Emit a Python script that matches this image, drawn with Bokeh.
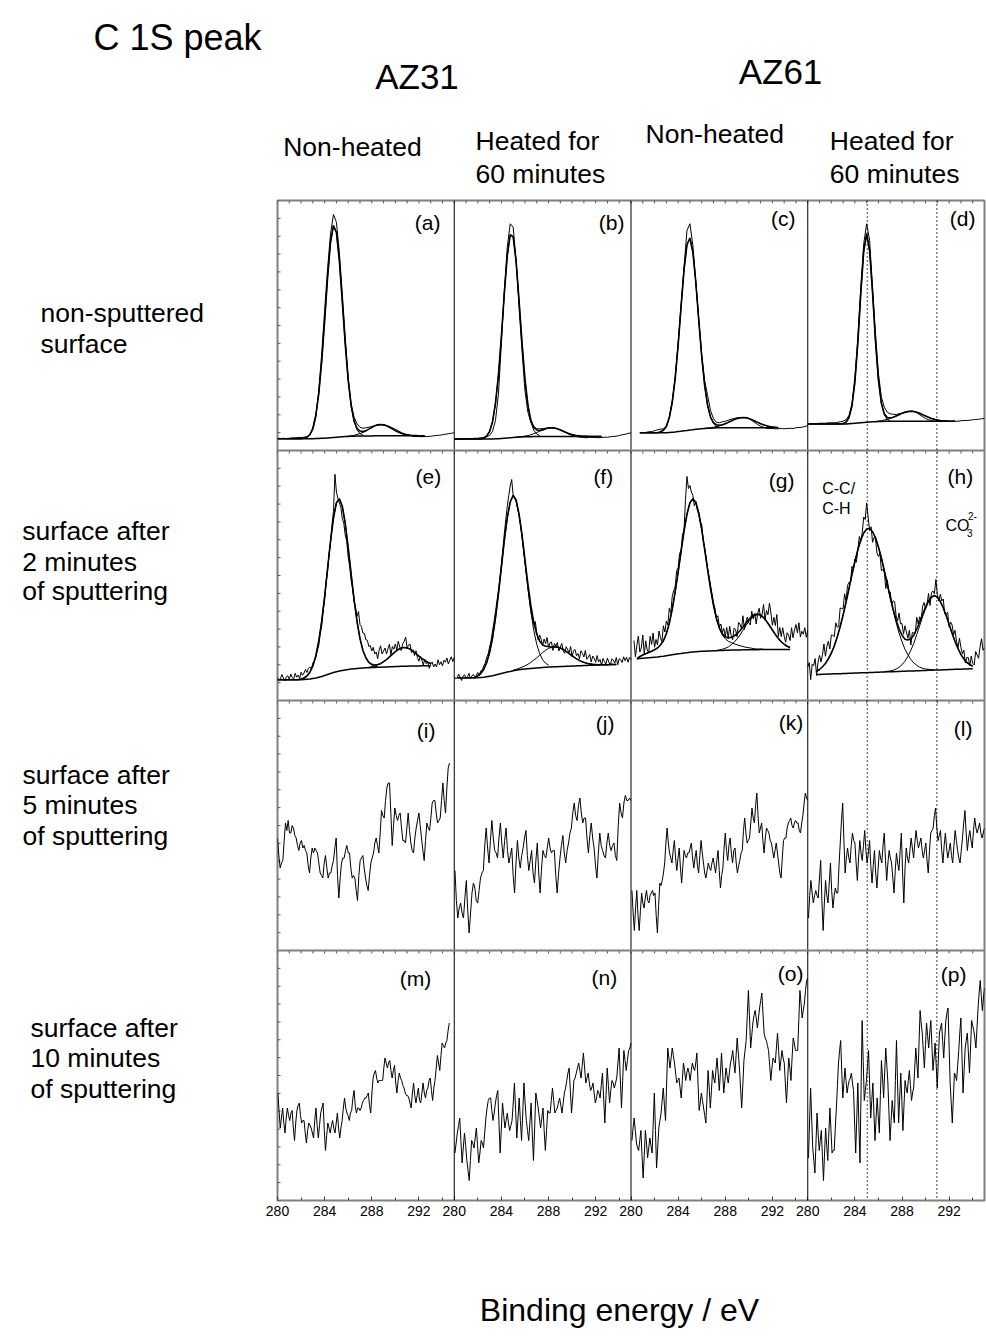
import numpy as np
from bokeh.plotting import figure
from bokeh.layouts import column, row
from bokeh.models import Range1d, LinearAxis, FixedTicker, Span, Label
from bokeh.embed import file_html
from bokeh.resources import INLINE

# ---------------------------------------------------------------
# DATA  (intensity given in % of the panel height, energies in eV)
# ---------------------------------------------------------------
panel_names = ["a", "b", "c", "d", "e", "f", "g", "h",
               "i", "j", "k", "l", "m", "n", "o", "p"]
tick_energies = [280, 284, 288, 292]
minor_tick_energies = [282, 286, 290, 294]
marker_energies = [285.06, 290.95]          # C-C/C-H and CO3(2-) lines

# raw spectra: (first energy, last energy)
raw_span = {
    "a": (280.0, 295.0), "b": (280.0, 295.0), "c": (280.75, 295.0), "d": (280.0, 295.0),
    "e": (280.0, 295.0), "f": (280.0, 295.0), "g": (280.25, 295.0), "h": (280.0, 295.0),
    "i": (280.0, 294.6), "j": (280.06, 295.0), "k": (280.08, 295.0), "l": (280.06, 295.0),
    "m": (280.03, 294.58), "n": (280.06, 295.0), "o": (280.08, 295.0), "p": (280.06, 295.0),
}

raw_a = [4.9, 4.8, 4.9, 4.8, 4.9, 5.1, 5.1, 5.2, 5.2, 5.3, 5.6, 6.3, 8.3,
         13.3, 24.0, 38.7, 56.0, 72.7, 86.7, 94.4, 91.3, 79.3, 62.7, 45.3, 29.3,
         18.7, 13.3, 10.7, 9.3,
         8.9, 9.1, 9.3, 9.6, 9.9, 10.1, 10.3, 10.3,
         10.0, 9.6, 9.1, 8.5, 7.9, 7.2, 6.7, 6.3,
         6.0, 5.7, 5.6, 5.6, 5.5, 5.6, 5.6, 5.7,
         5.9, 6.0, 6.1, 6.3, 6.5, 6.7, 6.9, 7.1]
raw_b = [4.5, 4.5, 4.7, 4.7, 4.7, 4.8, 4.8, 4.9, 4.9, 5.1, 5.2, 5.5, 6.0,
         7.7, 12.0, 22.7, 42.7, 64.0, 81.3, 90.7, 89.3, 76.0, 57.3, 40.0, 24.0,
         15.3, 11.3, 9.6, 8.7,
         8.7, 8.8, 8.9, 9.1, 9.1, 8.9, 8.7, 8.3,
         7.7, 7.1, 6.5, 6.0, 5.7, 5.5, 5.3, 5.2,
         5.1, 5.3, 5.2, 5.2, 5.1, 5.2, 5.3, 5.3,
         5.5, 5.6, 5.7, 6.0, 6.3, 6.5, 6.8, 7.1]
raw_c = [7.1, 7.2, 7.2, 7.5, 7.6, 7.9, 8.3, 8.5, 8.7, 9.3,
         13.3, 20.0, 29.5, 43.0, 58.5, 73.5, 88.0, 90.7, 82.0, 67.5, 52.5, 38.7,
         28.0, 22.0, 16.0, 12.7,
         11.3, 11.1, 11.5, 11.7, 12.1, 12.5, 12.8, 13.1,
         13.1, 13.1, 13.3, 12.8, 12.0, 11.2, 10.4, 9.7,
         9.3, 8.9, 8.8, 8.8, 8.7, 8.7, 8.8, 8.7,
         8.8, 8.9, 8.8, 9.1, 9.2, 9.3, 9.6, 10.0]
raw_d = [10.7, 10.7, 10.8, 10.8, 10.9, 10.9, 10.9, 11.1, 11.1, 11.1, 11.2, 11.5, 11.7,
         12.3, 14.0, 18.7, 29.3, 45.3, 65.3, 82.7, 90.7, 84.0, 65.3, 46.7, 30.7,
         21.3, 17.3, 15.3, 14.7,
         14.5, 14.4, 14.7, 14.9, 15.2, 15.5, 15.7, 15.7,
         15.1, 14.3, 13.5, 12.8, 12.3, 12.0, 11.7, 11.7,
         11.6, 11.6, 11.6, 11.6, 11.6, 11.7, 11.7, 11.9,
         12.0, 12.0, 12.1, 12.3, 12.4, 12.5, 12.7, 12.8]
raw_e = [9.2, 8.1, 8.7, 10.4, 9.0, 7.8, 9.5, 9.9, 8.4, 10.6, 9.1, 8.6, 10.9, 9.3, 10.2, 8.8,
         11.3, 10.1, 11.0, 12.4, 11.2, 12.9, 13.4, 12.6,
         15.0, 15.8, 17.2, 19.9, 22.1, 26.6, 29.8, 35.7,
         40.2, 47.1, 51.8, 58.9, 63.0, 70.4, 75.6, 90.5,
         83.4, 80.9, 79.0, 77.4, 72.8, 70.9, 66.2, 63.6,
         57.4, 53.6, 48.0, 44.6, 39.5, 37.1, 33.6, 35.6,
         30.4, 29.6, 27.0, 26.8, 24.3, 24.1, 21.6, 22.0,
         19.8, 21.3, 18.6, 19.4, 16.7, 20.2, 21.9, 18.6, 19.8, 21.0, 18.6, 20.7, 22.5, 18.3,
         21.6, 20.5, 22.6, 20.2, 23.7, 21.3, 20.0, 22.7, 23.6, 25.4, 21.0, 22.2, 22.5, 19.1,
         20.3, 18.0, 19.9, 17.2, 15.7, 17.6, 16.2, 14.2, 16.5, 14.7, 15.5, 12.9, 14.5, 15.4,
         13.4, 14.6, 13.4, 16.3, 14.3, 15.5, 13.8, 16.1, 15.3, 17.0, 14.6, 16.1, 17.5, 15.6,
         17.2]
raw_f = [9.6, 8.7, 9.1, 10.6, 9.3, 8.0, 9.8, 10.3, 8.9, 9.5, 10.9, 8.6, 9.9, 10.4, 9.2, 10.1,
         11.2, 10.0, 11.8,
         12.2, 13.8, 14.9, 17.2, 18.6, 21.4, 24.0, 27.8, 31.5, 35.6, 39.8, 44.2, 49.0,
         54.6, 60.5, 66.8, 72.4, 77.6, 82.0, 85.8, 88.4, 82.0, 81.0, 79.6, 77.0, 74.2, 70.6,
         66.0, 60.8, 55.6, 50.2, 45.2, 40.4, 36.0, 33.0, 30.4, 31.6, 27.2,
         24.2, 26.2, 24.5, 21.9, 24.6, 22.8, 25.2, 21.3, 23.0, 23.4, 20.0, 22.8, 21.7, 23.2,
         19.8, 21.4, 22.8, 19.8, 18.9, 21.5, 20.3, 19.2, 21.6, 17.5, 19.9, 20.4, 17.9, 18.8,
         16.7, 19.9, 18.9, 17.4, 20.0, 16.5, 17.3, 18.4, 15.4, 17.8, 16.9, 15.3, 18.0, 15.5,
         16.4, 14.2, 16.8, 15.5, 14.6, 17.0, 15.3, 14.2, 16.7, 16.2, 15.0, 17.2, 14.3, 16.7,
         16.3, 15.2, 17.5, 15.9, 17.3, 15.3, 17.2, 16.4]
raw_g = [24.0, 17.5, 22.1, 25.8, 19.4, 21.0, 26.2, 18.6, 23.9, 20.2, 19.1, 25.7, 22.4, 27.0,
         21.3, 24.4, 22.2, 27.8, 25.1, 23.6, 29.9, 27.4,
         31.8, 30.2, 36.9, 35.0, 41.7, 43.9, 45.6, 51.8, 53.1, 58.8, 60.2, 66.5, 68.1, 80.4,
         89.6, 84.8, 86.0,
         83.4, 82.1, 77.9, 79.6, 76.2, 74.5, 71.3, 70.6, 64.0, 61.2, 57.5, 53.0, 49.6, 46.1,
         42.7, 39.0, 36.8, 33.1, 33.9, 29.4, 30.6, 27.2, 28.8, 25.7,
         29.2, 24.9, 29.7, 25.9, 24.3, 29.0, 28.4, 25.5, 31.2, 30.6, 28.6, 33.9, 28.4, 31.4,
         33.4, 31.1, 30.2, 35.7, 32.7, 34.8, 30.6, 34.8, 36.9, 32.9, 34.5, 38.4, 32.1, 36.0,
         34.3, 39.0, 35.0, 30.1, 33.3, 30.0, 34.4, 25.6, 29.2, 25.6, 29.1, 25.7, 23.3, 27.1,
         26.2, 24.0, 29.1, 25.1, 28.2, 30.4, 27.0, 31.1, 25.4, 27.7, 26.5, 29.1, 25.3, 28.2]
raw_h = [13.4, 15.2, 8.4, 14.5, 13.9, 16.8, 10.0, 15.4, 18.1, 15.4, 18.3, 22.6, 17.7, 21.6,
         23.7, 20.6, 26.2, 26.1, 25.5, 31.1, 29.3, 29.6, 37.0, 36.8, 36.7, 42.7, 39.9, 46.0,
         47.3, 47.1, 53.7, 52.5, 56.6, 55.3, 60.2, 65.6, 63.6, 67.2, 73.4, 72.4, 79.0, 73.3,
         68.0, 69.5, 63.3, 65.2, 64.8, 58.9, 57.6, 58.9, 51.9, 52.5, 51.1, 44.8, 48.3, 43.4,
         43.4, 38.5, 39.9, 39.5, 33.8, 31.8, 35.0, 30.7, 30.8, 26.5, 29.9, 27.4, 24.9, 28.1,
         22.2, 27.2, 27.0, 26.9, 33.3, 30.6, 33.5, 32.2, 37.7, 39.2, 36.6, 38.5, 42.8, 38.0,
         43.1, 43.8, 42.7, 48.4, 42.3, 39.8, 42.5, 39.8, 40.6, 34.6, 34.6, 35.3, 29.4, 31.4,
         30.2, 26.2, 28.1, 23.7, 21.1, 24.9, 21.2, 18.7, 20.1, 15.1, 17.2, 17.2, 13.8, 17.8,
         14.9, 14.2, 19.6, 18.2, 16.9, 21.5, 24.7, 20.1, 21.1]
raw_i = [45, 38, 33, 35, 36, 44, 51, 48, 52, 47, 47, 50, 49, 46, 45, 42, 40, 43, 44, 41, 42, 40,
         39, 34, 31, 37, 41, 39, 41, 40, 39, 35, 31, 30, 29, 35, 38, 33, 29, 31, 31, 34, 36, 41,
         45, 30, 21, 29, 35, 37, 37, 40, 42, 39, 39, 33, 29, 30, 29, 24, 20, 30, 36, 37, 38, 33,
         29, 26, 24, 30, 35, 37, 39, 43, 45, 42, 39, 47, 56, 54, 53, 60, 65, 67, 67, 55, 42, 50,
         57, 54, 52, 54, 55, 49, 44, 44, 43, 49, 55, 48, 43, 40, 39, 45, 49, 52, 55, 50, 45, 40,
         36, 44, 51, 49, 48, 53, 59, 60, 60, 55, 51, 52, 53, 60, 67, 60, 55, 65, 73, 75]
raw_j = [32, 20, 13, 17, 19, 15, 13, 21, 28, 16, 7, 15, 23, 27, 25, 20, 19, 24, 29, 31, 32, 42,
         49, 41, 35, 44, 52, 45, 40, 39, 37, 45, 51, 43, 37, 44, 49, 40, 35, 38, 41, 30, 23, 35,
         44, 37, 33, 38, 41, 45, 48, 38, 32, 36, 40, 31, 27, 36, 43, 31, 23, 33, 40, 38, 37, 41,
         45, 41, 39, 40, 40, 30, 23, 31, 37, 42, 46, 39, 35, 40, 43, 47, 49, 55, 59, 54, 52, 58,
         61, 55, 51, 53, 53, 45, 39, 46, 51, 45, 41, 34, 29, 39, 47, 42, 40, 38, 37, 43, 47, 42,
         40, 42, 43, 38, 36, 50, 59, 55, 53, 59, 62, 60, 60, 61, 60]
raw_k = [24, 15, 8, 17, 24, 14, 8, 16, 23, 19, 17, 21, 24, 20, 19, 22, 23, 24, 22, 23, 14, 7,
         18, 27, 26, 28, 31, 35, 43, 49, 43, 39, 37, 35, 40, 44, 37, 32, 37, 41, 33, 27, 34, 40,
         38, 37, 39, 39, 41, 43, 37, 33, 37, 40, 34, 31, 38, 44, 39, 35, 31, 29, 32, 35, 33, 32,
         35, 37, 34, 31, 36, 40, 32, 25, 30, 33, 41, 47, 40, 36, 42, 45, 39, 35, 40, 41, 35, 31,
         34, 36, 39, 40, 48, 53, 47, 43, 44, 45, 51, 57, 53, 51, 58, 63, 54, 47, 49, 51, 44, 39,
         45, 49, 48, 47, 44, 43, 40, 37, 40, 43, 39, 35, 31, 29, 37, 44, 45, 45, 49, 51, 52, 53,
         50, 49, 51, 52, 51, 51, 48, 47, 51, 54, 59, 63, 61, 60]
raw_l = [13, 22, 28, 23, 19, 22, 24, 22, 21, 29, 36, 20, 8, 19, 28, 22, 19, 27, 35, 24, 17, 22,
         25, 23, 23, 34, 43, 52, 59, 44, 31, 37, 41, 37, 35, 42, 47, 44, 43, 35, 28, 37, 44, 39,
         36, 42, 48, 40, 35, 39, 44, 34, 27, 34, 40, 31, 25, 33, 40, 37, 35, 42, 47, 36, 28, 35,
         40, 37, 35, 29, 23, 32, 39, 35, 32, 40, 47, 31, 19, 33, 41, 37, 35, 40, 45, 41, 37, 43,
         48, 44, 41, 43, 45, 40, 37, 40, 43, 36, 31, 40, 47, 48, 49, 54, 57, 49, 44, 46, 48, 40,
         35, 42, 47, 41, 37, 40, 43, 38, 35, 42, 48, 44, 40, 37, 35, 40, 45, 51, 56, 47, 40, 45,
         48, 44, 41, 48, 53, 49, 47, 49, 51, 47, 45, 47, 49]
raw_m = [43, 36, 29, 33, 37, 31, 27, 33, 37, 34, 32, 35, 36, 29, 24, 31, 36, 38, 39, 34, 31, 32,
         32, 27, 23, 28, 31, 30, 29, 27, 25, 32, 37, 30, 25, 30, 35, 37, 39, 28, 20, 26, 31, 29,
         27, 30, 32, 29, 27, 31, 35, 29, 25, 29, 32, 37, 41, 37, 35, 34, 32, 35, 36, 41, 44, 38,
         35, 37, 37, 36, 37, 39, 40, 41, 41, 42, 43, 38, 35, 43, 49, 51, 52, 49, 47, 48, 48, 48,
         48, 53, 57, 55, 53, 55, 56, 52, 49, 52, 54, 47, 43, 48, 51, 49, 48, 46, 45, 43, 42, 42,
         41, 39, 37, 43, 47, 42, 39, 42, 45, 40, 39, 43, 47, 43, 41, 44, 45, 48, 49, 44, 40, 45,
         48, 53, 58, 55, 52, 58, 63, 62, 61, 63, 64, 68, 71]
raw_n = [19, 23, 27, 30, 33, 24, 15, 21, 27, 22, 16, 12, 8, 16, 24, 23, 21, 25, 29, 22, 15, 19,
         24, 23, 21, 27, 33, 37, 40, 41, 41, 36, 32, 35, 39, 42, 44, 31, 19, 29, 39, 34, 29, 32,
         35, 31, 28, 30, 32, 39, 47, 36, 25, 33, 41, 32, 24, 35, 47, 39, 32, 28, 24, 31, 39, 27,
         16, 29, 43, 40, 37, 33, 29, 33, 37, 28, 20, 28, 36, 35, 35, 40, 45, 40, 35, 36, 37, 39,
         41, 38, 35, 39, 43, 45, 48, 51, 53, 44, 35, 41, 48, 49, 51, 53, 55, 52, 49, 54, 59, 53,
         47, 49, 51, 47, 44, 45, 47, 43, 39, 41, 44, 43, 41, 46, 51, 41, 31, 42, 53, 46, 39, 44,
         48, 47, 45, 47, 49, 55, 61, 49, 37, 48, 60, 56, 52, 56, 60, 61, 63]
raw_o = [24, 29, 33, 28, 23, 21, 20, 24, 28, 18, 9, 18, 28, 23, 17, 21, 25, 22, 19, 31, 43, 28,
         13, 21, 29, 32, 35, 40, 45, 38, 32, 47, 61, 57, 53, 57, 61, 58, 55, 51, 47, 48, 49, 45,
         41, 48, 55, 52, 48, 51, 53, 51, 48, 52, 55, 53, 52, 55, 59, 47, 36, 39, 43, 40, 37, 34,
         31, 41, 52, 45, 37, 44, 52, 49, 47, 52, 57, 51, 44, 51, 59, 51, 43, 48, 53, 50, 47, 51,
         55, 57, 60, 55, 51, 58, 65, 59, 53, 45, 37, 46, 56, 60, 64, 74, 84, 73, 61, 66, 71, 74,
         76, 73, 69, 73, 77, 80, 83, 75, 67, 65, 64, 62, 60, 54, 48, 53, 57, 56, 55, 61, 67, 60,
         52, 56, 60, 57, 55, 47, 39, 48, 57, 53, 48, 57, 65, 63, 60, 60, 60, 72, 84, 79, 73, 76,
         79, 84, 88, 89]
raw_p = [17, 31, 45, 33, 21, 16, 11, 23, 35, 27, 20, 24, 28, 18, 8, 19, 29, 22, 16, 27, 37, 28,
         19, 20, 20, 29, 37, 46, 55, 60, 64, 52, 41, 47, 53, 48, 43, 46, 48, 49, 51, 47, 44, 31,
         19, 33, 47, 30, 15, 44, 72, 56, 40, 44, 48, 54, 60, 46, 33, 40, 47, 35, 24, 33, 41, 34,
         27, 42, 56, 49, 41, 51, 61, 54, 47, 35, 24, 32, 40, 35, 31, 48, 64, 47, 31, 41, 51, 40,
         28, 38, 48, 45, 43, 48, 52, 46, 40, 43, 45, 53, 61, 55, 49, 63, 76, 71, 67, 60, 53, 62,
         71, 66, 61, 67, 72, 62, 52, 57, 63, 54, 45, 56, 67, 69, 71, 64, 57, 65, 72, 75, 77, 62,
         47, 39, 31, 41, 51, 50, 48, 54, 60, 67, 73, 58, 43, 52, 61, 64, 67, 59, 51, 61, 72, 70,
         68, 65, 61, 69, 77, 83, 88, 82, 76, 81, 85]

# peak fits (0.25 eV grid): background, C-C/C-H component, CO3 component
fit_step = 0.25
bg_a = [4.7, 4.7, 4.7, 4.7, 4.7, 4.7, 4.7, 4.7, 4.7, 4.7, 4.7, 4.7, 4.7,
        4.8, 4.8, 4.9, 4.9, 5.0, 5.1, 5.2, 5.3, 5.4, 5.5, 5.6, 5.6, 5.7, 5.7, 5.8, 5.8,
        5.8, 5.8, 5.8, 5.8, 5.9, 5.9, 5.9, 5.9, 5.9, 5.9, 5.9, 5.9, 5.9, 5.9, 5.9, 5.9,
        5.9, 5.9, 5.9, 5.9, 5.9, 5.9]
cc_a = [0.2, 0.6, 1.7, 4.2, 9.2, 17.8, 30.6, 46.9, 64.2, 78.2, 84.8, 81.9, 70.5, 54.0,
        36.8, 22.4, 12.1, 5.8, 2.5, 1.0, 0.3]
co3_a = [0.05, 0.1, 0.2, 0.36, 0.61, 0.97, 1.46, 2.06, 2.73, 3.4, 3.97, 4.36, 4.5, 4.36,
         3.97, 3.4, 2.73, 2.06, 1.46, 0.97, 0.61, 0.36, 0.2, 0.1, 0.05]
bg_b = [4.6, 4.6, 4.6, 4.6, 4.6, 4.6, 4.6, 4.6, 4.6, 4.6, 4.6, 4.6, 4.6,
        4.6, 4.7, 4.7, 4.8, 4.9, 5.0, 5.1, 5.2, 5.3, 5.4, 5.4, 5.5, 5.5, 5.5,
        5.6, 5.6, 5.6, 5.6, 5.6, 5.6, 5.6, 5.6, 5.6, 5.6, 5.6, 5.6, 5.6, 5.6, 5.6, 5.6,
        5.6, 5.6, 5.6, 5.6, 5.6, 5.6, 5.6, 5.6]
cc_b = [0.4, 1.2, 3.0, 6.9, 14.2, 25.5, 40.8, 58.0, 72.9, 81.2, 80.3, 70.3, 54.5, 37.6,
        22.9, 12.4, 5.9, 2.5, 1.0, 0.3]
co3_b = [0.04, 0.08, 0.15, 0.28, 0.47, 0.76, 1.14, 1.6, 2.12, 2.64, 3.09, 3.39, 3.5, 3.39,
         3.09, 2.64, 2.12, 1.6, 1.14, 0.76, 0.47, 0.28, 0.15, 0.08, 0.04]
bg_c = [7.1, 7.1, 7.1, 7.1, 7.1, 7.1, 7.1, 7.1, 7.1, 7.1,
        7.2, 7.3, 7.4, 7.6, 7.7, 7.9, 8.0, 8.2, 8.3, 8.5, 8.6, 8.7, 8.8, 8.9, 8.9, 9.0,
        9.1, 9.1, 9.1, 9.1, 9.1, 9.1, 9.1, 9.1, 9.1, 9.1, 9.1, 9.1, 9.1, 9.1, 9.1, 9.1,
        9.1, 9.1, 9.1, 9.1, 9.1, 9.1]
cc_c = [0.4, 1.0, 2.6, 5.9, 11.9, 21.4, 34.5, 49.8, 64.3, 74.3, 76.8, 71.1, 58.8, 43.6,
        28.9, 17.2, 9.1, 4.3, 1.8, 0.7, 0.2]
co3_c = [0.05, 0.1, 0.18, 0.31, 0.5, 0.78, 1.16, 1.62, 2.15, 2.71, 3.25, 3.7, 4.0, 4.1,
         4.0, 3.7, 3.25, 2.71, 2.15, 1.62, 1.16, 0.78, 0.5, 0.31, 0.18, 0.1]
bg_d = [10.6, 10.6, 10.6, 10.6, 10.6, 10.6, 10.6, 10.6, 10.6, 10.6, 10.6, 10.6, 10.6,
        10.6, 10.7, 10.8, 10.9, 11.0, 11.1, 11.2, 11.3, 11.4, 11.5, 11.5, 11.6, 11.6, 11.7,
        11.7, 11.7, 11.7, 11.7, 11.7, 11.7, 11.7, 11.7, 11.7, 11.7, 11.7, 11.7, 11.7, 11.7,
        11.7, 11.7, 11.7, 11.7, 11.7, 11.7, 11.7, 11.7, 11.7, 11.7]
cc_d = [0.2, 0.7, 2.5, 7.0, 16.4, 32.0, 51.6, 68.5, 75.4, 68.5, 51.6, 32.0, 16.4, 7.0,
        2.5, 0.7, 0.2]
co3_d = [0.1, 0.18, 0.3, 0.49, 0.76, 1.13, 1.58, 2.1, 2.64, 3.17, 3.61, 3.9, 4.0, 3.9,
         3.61, 3.17, 2.64, 2.1, 1.58, 1.13, 0.76, 0.49, 0.3, 0.18, 0.1]
bg_e = [8.3, 8.3, 8.3, 8.3, 8.3, 8.3, 8.3, 8.3, 8.3, 8.4, 8.5, 8.6, 8.8, 9.0, 9.3, 9.6,
        10.0, 10.4, 10.8, 11.2, 11.5, 11.8, 12.0, 12.2, 12.4, 12.6, 12.7, 12.8, 12.9, 13.0,
        13.1, 13.1, 13.2, 13.2, 13.3, 13.3, 13.4, 13.4, 13.5, 13.5, 13.6, 13.6, 13.7, 13.7,
        13.7, 13.8, 13.8, 13.8, 13.8, 13.9, 13.9, 13.9, 13.9]
cc_e = [0.3, 0.6, 1.3, 2.7, 5.0, 8.8, 14.4, 22.1, 31.6, 42.3, 52.9, 61.8, 67.6, 68.9, 65.7,
        58.6, 48.8, 38.0, 27.6, 18.8, 11.9, 7.0, 3.9, 2.0, 1.0, 0.4, 0.2]
co3_e = [0.1, 0.18, 0.33, 0.57, 0.92, 1.43, 2.12, 2.96, 3.93, 4.96, 5.95, 6.77, 7.31, 7.5,
         7.31, 6.77, 5.95, 4.96, 3.93, 2.96, 2.12, 1.43, 0.92]
bg_f = [9.1, 9.1, 9.1, 9.1, 9.1, 9.1, 9.1, 9.1, 9.2, 9.3, 9.5, 9.7, 9.9, 10.2, 10.5,
        10.8, 11.1, 11.4, 11.6, 11.9, 12.1, 12.3, 12.5, 12.6, 12.7, 12.8, 12.9, 13.0, 13.1,
        13.2, 13.3, 13.4, 13.4, 13.5, 13.5, 13.6, 13.6, 13.7, 13.7, 13.8, 13.8, 13.9, 13.9,
        14.0, 14.0, 14.1, 14.1, 14.2, 14.2, 14.3, 14.3, 14.3, 14.4, 14.4, 14.4]
cc_f = [0.8, 1.6, 3.1, 5.6, 9.5, 15.1, 22.8, 32.1, 42.5, 52.9, 61.7, 67.8, 70.0, 67.8, 61.7,
        52.9, 42.5, 32.1, 22.8, 15.1, 9.5, 5.6, 3.1, 1.6, 0.8]
co3_f = [0.21, 0.35, 0.56, 0.86, 1.26, 1.79, 2.45, 3.23, 4.11, 5.04, 5.95, 6.78, 7.43, 7.86,
         8.0, 7.86, 7.43, 6.78, 5.95, 5.04, 4.11, 3.23, 2.45, 1.79, 1.26, 0.86, 0.56, 0.35,
         0.21, 0.12, 0.07]
bg_g = [16.7, 16.8, 16.9, 17.0, 17.1, 17.2, 17.3, 17.4, 17.6, 17.7, 17.9, 18.1, 18.3, 18.5,
        18.7, 18.8, 19.0, 19.1, 19.3, 19.4, 19.5, 19.6, 19.7, 19.7, 19.8, 19.8, 19.9, 19.9,
        20.0, 20.0, 20.1, 20.1, 20.2, 20.2, 20.2, 20.2, 20.3, 20.3, 20.3, 20.3, 20.3, 20.3,
        20.4, 20.4, 20.4, 20.4, 20.4, 20.4, 20.4, 20.4, 20.4, 20.4, 20.4]
cc_g = [0.0, 0.8, 1.3, 1.7, 2.1, 2.5, 3.0, 3.6, 4.6, 6.2, 8.8, 12.8, 18.2, 25.0, 32.6, 40.8,
        48.8, 55.4, 59.8, 61.3, 59.8, 55.4, 48.8, 40.8, 32.6, 25.0, 18.2, 12.8, 8.8, 6.2, 4.6,
        3.6, 3.0, 2.5, 2.1, 1.7, 1.3, 1.0, 0.8, 0.6, 0.4, 0.3, 0.2, 0.1]
co3_g = [0.1, 0.26, 0.5, 0.8, 1.3, 2.1, 3.1, 4.4, 6.0, 7.8, 9.6, 11.3, 12.7, 13.7, 14.0,
         13.7, 12.7, 11.3, 9.6, 7.8, 6.0, 4.4, 3.1, 2.1, 1.3, 0.8]
bg_h = [10.4, 10.4, 10.5, 10.5, 10.6, 10.6, 10.7, 10.7, 10.7, 10.8, 10.8, 10.9, 10.9, 11.0,
        11.0, 11.1, 11.1, 11.1, 11.2, 11.2, 11.3, 11.3, 11.4, 11.4, 11.5, 11.5, 11.5, 11.6,
        11.6, 11.7, 11.7, 11.8, 11.8, 11.8, 11.9, 11.9, 12.0, 12.0, 12.1, 12.1, 12.2, 12.2,
        12.2, 12.3, 12.3, 12.4, 12.4, 12.5, 12.5, 12.5, 12.6, 12.6, 12.7, 12.7]
cc_h = [1.3, 2.0, 3.0, 4.3, 6.1, 8.3, 11.1, 14.7, 18.8, 23.4, 28.5, 33.9, 39.4, 44.5, 49.3,
        53.1, 55.9, 57.5, 57.6, 56.3, 53.8, 50.1, 45.6, 40.4, 35.0, 29.5, 24.4, 19.6, 15.4,
        11.8, 8.8, 6.5, 4.6, 3.2, 2.2, 1.4, 0.9, 0.6, 0.4, 0.2, 0.1]
co3_h = [0.1, 0.2, 0.3, 0.6, 1.0, 1.7, 2.6, 4.0, 5.9, 8.3, 11.1, 14.5, 18.0, 21.6, 24.8, 27.4,
         29.1, 29.7, 29.1, 27.4, 24.8, 21.6, 18.0, 14.5, 11.1, 8.3, 5.9, 4.0, 2.6, 1.7, 1.0]

# fit start energies: (background, C-C/C-H, CO3)
fit_starts = {
    "a": (280.0, 282.25, 285.75), "b": (280.0, 282.5, 285.25),
    "c": (280.75, 282.5, 286.25), "d": (280.0, 283.0, 285.75),
    "e": (280.0, 282.0, 287.5), "f": (280.25, 282.0, 285.0),
    "g": (280.5, 280.5, 287.25), "h": (280.75, 280.75, 286.5),
}

raws = {"a": raw_a, "b": raw_b, "c": raw_c, "d": raw_d, "e": raw_e, "f": raw_f,
        "g": raw_g, "h": raw_h, "i": raw_i, "j": raw_j, "k": raw_k, "l": raw_l,
        "m": raw_m, "n": raw_n, "o": raw_o, "p": raw_p}
fits = {"a": (bg_a, cc_a, co3_a), "b": (bg_b, cc_b, co3_b), "c": (bg_c, cc_c, co3_c),
        "d": (bg_d, cc_d, co3_d), "e": (bg_e, cc_e, co3_e), "f": (bg_f, cc_f, co3_f),
        "g": (bg_g, cc_g, co3_g), "h": (bg_h, cc_h, co3_h)}

col_titles = [["Non-heated"], ["Heated for", "60 minutes"],
              ["Non-heated"], ["Heated for", "60 minutes"]]
row_titles = [["non-sputtered", "surface"],
              ["surface after", "2 minutes", "of sputtering"],
              ["surface after", "5 minutes", "of sputtering"],
              ["surface after", "10 minutes", "of sputtering"]]

# ---------------------------------------------------------------
# LAYOUT (page pixels)
# ---------------------------------------------------------------
W, H = 986, 1344
FL, FR, FT, FB = 277, 984, 200, 1200      # spectra frame edges on the page
AXIS_H = 30                                # room for the tick labels
PAD_L = 16                                 # room for the first tick label
TOP_H = FT - 1
LEFT_W = FL - PAD_L
MAIN_W = W - LEFT_W
MAIN_H = 1 + (FB - FT) + AXIS_H
BOT_H = H - TOP_H - MAIN_H
E0, EW = 280.0, 15.0
NCOL, NROW = 4, 4
FONT = "Liberation Sans"


def text_fig(w, h, x0, y0):
    f = figure(width=w, height=h, x_range=Range1d(x0, x0 + w), y_range=Range1d(y0 + h, y0),
               output_backend="svg", toolbar_location=None,
               x_axis_location=None, y_axis_location=None, min_border=0)
    f.grid.grid_line_color = None
    f.outline_line_color = None
    f.background_fill_color = "white"
    f.border_fill_color = "white"
    return f


def add_text(f, txt, x_px, y_px, size, align="left"):
    f.add_layout(Label(x=x_px, y=y_px, text=txt, text_font=FONT, text_font_size=size,
                       text_align=align, text_baseline="alphabetic", text_color="black"))


# ---- main spectra figure ----
p = figure(width=MAIN_W, height=MAIN_H, x_range=Range1d(0, NCOL * EW), y_range=Range1d(0, NROW),
           output_backend="svg", toolbar_location=None,
           x_axis_location=None, y_axis_location=None,
           min_border_left=PAD_L, min_border_right=W - FR,
           min_border_top=1, min_border_bottom=AXIS_H)
p.grid.grid_line_color = None
p.background_fill_color = "white"
p.border_fill_color = "white"
p.outline_line_color = "#808080"
p.outline_line_width = 2

major_pos, minor_pos, overrides = [], [], {}
for c in range(NCOL):
    for e in tick_energies:
        pos = c * EW + (e - E0)
        major_pos.append(pos)
        overrides[pos] = str(e)
    for e in minor_tick_energies:
        pos = c * EW + (e - E0)
        if pos < NCOL * EW:
            minor_pos.append(pos)
xb = LinearAxis(ticker=FixedTicker(ticks=major_pos, minor_ticks=minor_pos),
                major_label_overrides=overrides)
xb.axis_line_color = None
xb.major_tick_in, xb.major_tick_out = 4, 0
xb.minor_tick_in, xb.minor_tick_out = 3, 0
xb.major_tick_line_color = "#444444"
xb.minor_tick_line_color = "#444444"
xb.major_label_text_font = FONT
xb.major_label_text_font_size = "14px"
xb.major_label_text_color = "black"
xb.major_label_standoff = 5
p.add_layout(xb, "below")

# small inward ticks: 1 eV along every row top, and along the left edge
px_per_x = (FR - FL) / (NCOL * EW)
px_per_y = (FB - FT) / NROW
one_ev = [c * EW + k for c in range(NCOL) for k in range(int(EW))]
for r in range(1, NROW + 1):
    p.segment(x0=one_ev, y0=[r] * len(one_ev), x1=one_ev,
              y1=[r - 3 / px_per_y] * len(one_ev), line_color="#555555", line_width=1)
left_ticks = list(np.arange(0, NROW + 1e-9, 1 / 14))
p.segment(x0=[0] * len(left_ticks), y0=left_ticks, x1=[3 / px_per_x] * len(left_ticks),
          y1=left_ticks, line_color="#555555", line_width=1)

for c in range(1, NCOL):
    p.add_layout(Span(location=c * EW, dimension="height", line_color="black", line_width=1))
for r in range(1, NROW):
    p.add_layout(Span(location=r, dimension="width", line_color="#808080", line_width=2))

for e in marker_energies:
    p.add_layout(Span(location=(NCOL - 1) * EW + (e - E0), dimension="height",
                      line_color="black", line_width=1.5, line_dash="1 3"))

for idx, name in enumerate(panel_names):
    r, c = divmod(idx, NCOL)
    xoff = c * EW - E0
    yoff = NROW - 1 - r
    vals = np.array(raws[name], dtype=float)
    e_start, e_end = raw_span[name]
    energy = np.linspace(e_start, e_end, len(vals))
    p.line(energy + xoff, yoff + vals / 100.0, line_color="black", line_width=1.0)

    if name in fits:
        bg, cc, co3 = (np.array(v, dtype=float) for v in fits[name])
        s_bg, s_cc, s_co3 = fit_starts[name]
        e_fit = s_bg + fit_step * np.arange(len(bg))
        env = bg.copy()
        for s, comp in ((s_cc, cc), (s_co3, co3)):
            i0 = int(round((s - s_bg) / fit_step))
            i1 = min(i0 + len(comp), len(bg))
            seg = comp[: i1 - i0]
            env[i0:i1] += seg
            p.line(e_fit[i0:i1] + xoff, yoff + (bg[i0:i1] + seg) / 100.0,
                   line_color="black", line_width=1.0)
        p.line(e_fit + xoff, yoff + bg / 100.0, line_color="black", line_width=1.4)
        p.line(e_fit + xoff, yoff + env / 100.0, line_color="black", line_width=1.6)


def to_x(px):
    return (px - FL) / px_per_x


def to_y(py):
    return NROW - (py - FT) / px_per_y


letter_pos = {
    "a": (440, 221.7), "b": (624, 221.7), "c": (795, 217.5), "d": (975, 217.5),
    "e": (440.7, 476), "f": (612.7, 475.8), "g": (794, 480), "h": (972.7, 475.8),
    "i": (435, 730), "j": (614, 723), "k": (802.7, 721.7), "l": (972, 728),
    "m": (430.7, 978.3), "n": (616.7, 976.7), "o": (803, 972.5), "p": (966, 974),
}
for name in panel_names:
    x_px, y_px = letter_pos[name]
    p.add_layout(Label(x=to_x(x_px), y=to_y(y_px), text="(%s)" % name, text_font=FONT,
                       text_font_size="21px", text_align="right", text_baseline="middle",
                       text_color="black"))

for txt, x_px, y_px, size in [("C-C/", 821.7, 488.3, "16px"), ("C-H", 821.7, 508.3, "16px"),
                              ("CO", 945, 525, "16px"), ("3", 966.5, 532, "10px"),
                              ("2-", 967.5, 515, "10px")]:
    p.add_layout(Label(x=to_x(x_px), y=to_y(y_px), text=txt, text_font=FONT,
                       text_font_size=size, text_align="left", text_baseline="alphabetic",
                       text_color="black"))

# ---- top text strip ----
top = text_fig(W, TOP_H, 0, 0)
add_text(top, "C 1S peak", 93, 36.7, "36px")
add_text(top, "AZ31", 416.5, 76, "35px", "center")
add_text(top, "AZ61", 780, 70.7, "35px", "center")
col_left = [282.7, 475, 645, 829.3]
col_base = [[146.7], [140, 173.3], [133.3], [140, 173.3]]
for c in range(NCOL):
    for line_txt, yb in zip(col_titles[c], col_base[c]):
        add_text(top, line_txt, col_left[c], yb, "26.5px")

# ---- left text strip (row titles) ----
left = text_fig(LEFT_W, MAIN_H, 0, TOP_H)
row_left = [40, 21.7, 22, 30]
row_base = [[315, 346.7], [540, 571.7, 602], [791, 822.5, 854], [1052, 1083.5, 1115]]
for r in range(NROW):
    for line_txt, yb in zip(row_titles[r], row_base[r]):
        add_text(left, line_txt, row_left[r], yb, "26.5px")

# ---- bottom text strip (axis title) ----
bottom = text_fig(W, BOT_H, 0, TOP_H + MAIN_H)
add_text(bottom, "Binding energy / eV", 619, 1309, "32px", "center")

layout = column(top, row(left, p, spacing=0), bottom, spacing=0)
open("out.html", "w").write(file_html(layout, INLINE))
